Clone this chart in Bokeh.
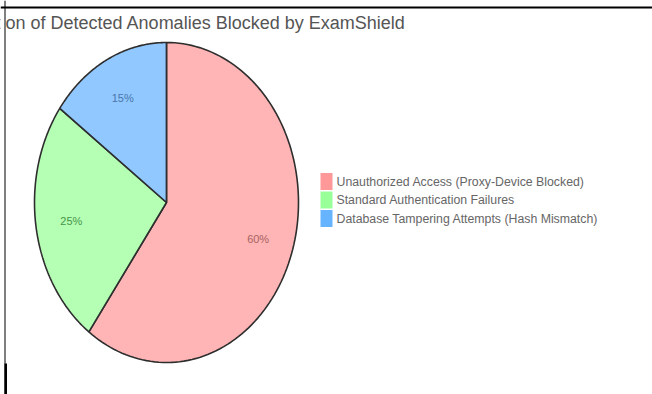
import numpy as np
from bokeh.plotting import figure
from bokeh.models import Range1d, Label, Span, BoxAnnotation
from bokeh.embed import file_html
from bokeh.resources import INLINE
from bokeh.core.properties import value

# ---- data ----
categories = [
    "Unauthorized Access (Proxy-Device Blocked)",
    "Standard Authentication Failures",
    "Database Tampering Attempts (Hash Mismatch)",
]
shares = [60, 25, 15]
pct_labels = ["60%", "25%", "15%"]
colors = ["#ff9999", "#99ff99", "#66b3ff"]
label_colors = ["#a86262", "#479447", "#4a76ac"]
title_text = "Distribution of Detected Anomalies Blocked by ExamShield"

# ---- layout (page pixel coordinates) ----
W, H = 652, 394
FONT = "Liberation Sans"
cx, cy, rx, ry = 166.0, 202.0, 132.0, 160.0

p = figure(width=W, height=H, output_backend="svg", toolbar_location=None,
           x_range=Range1d(0, W), y_range=Range1d(H, 0),
           x_axis_location=None, y_axis_location=None, min_border=0)
p.grid.visible = False
p.outline_line_alpha = 0
p.background_fill_color = "white"

# pie slices (clockwise from 12 o'clock) drawn as elliptical wedges
total = float(sum(shares))
ends = np.cumsum(shares) / total * 2 * np.pi
starts = np.concatenate([[0.0], ends[:-1]])
xs, ys, lx, ly = [], [], [], []
for a0, a1 in zip(starts, ends):
    t = np.linspace(a0, a1, 120)
    xs.append(np.concatenate([[cx], cx + rx * np.sin(t)]).tolist())
    ys.append(np.concatenate([[cy], cy - ry * np.cos(t)]).tolist())
    m = (a0 + a1) / 2
    lx.append(cx + 0.73 * rx * np.sin(m))
    ly.append(cy - 0.73 * ry * np.cos(m))

p.patches(xs=xs, ys=ys, fill_color=colors, fill_alpha=0.72,
          line_color="#2e2e2e", line_width=1.6)

p.text(x=lx, y=ly, text=pct_labels, text_color=label_colors,
       text_align="center", text_baseline="middle",
       text_font=value(FONT), text_font_size="11px")

# legend (drawn manually so swatches are full colour)
leg_x, leg_y0, pitch = 320.0, 181.0, 18.5
sw_w, sw_h = 12.0, 17.0
rows = np.arange(len(categories))
p.rect(x=leg_x + sw_w / 2, y=leg_y0 + rows * pitch, width=sw_w, height=sw_h,
       fill_color=colors, line_alpha=0)
p.text(x=leg_x + sw_w + 4, y=leg_y0 + rows * pitch, text=categories,
       text_color="#666666", text_baseline="middle", text_align="left",
       text_font=value(FONT), text_font_size="12.3px")

# title (cropped on the left as in the reference)
p.add_layout(Label(x=-65, y=22, text=title_text, text_font=FONT,
                   text_font_size="18px", text_color="#555555",
                   text_baseline="middle"))
p.add_layout(BoxAnnotation(left=0, right=5, top=0, bottom=45,
                           fill_color="white", fill_alpha=1, line_alpha=0))

# screenshot frame lines
p.add_layout(Span(location=7, dimension="width", line_color="black", line_width=2))
p.add_layout(Span(location=4.5, dimension="height", line_color="black", line_width=1))
p.add_layout(BoxAnnotation(left=4, right=6.5, top=363, bottom=H,
                           fill_color="black", fill_alpha=1, line_alpha=0))

open("out.html", "w").write(file_html(p, INLINE))
